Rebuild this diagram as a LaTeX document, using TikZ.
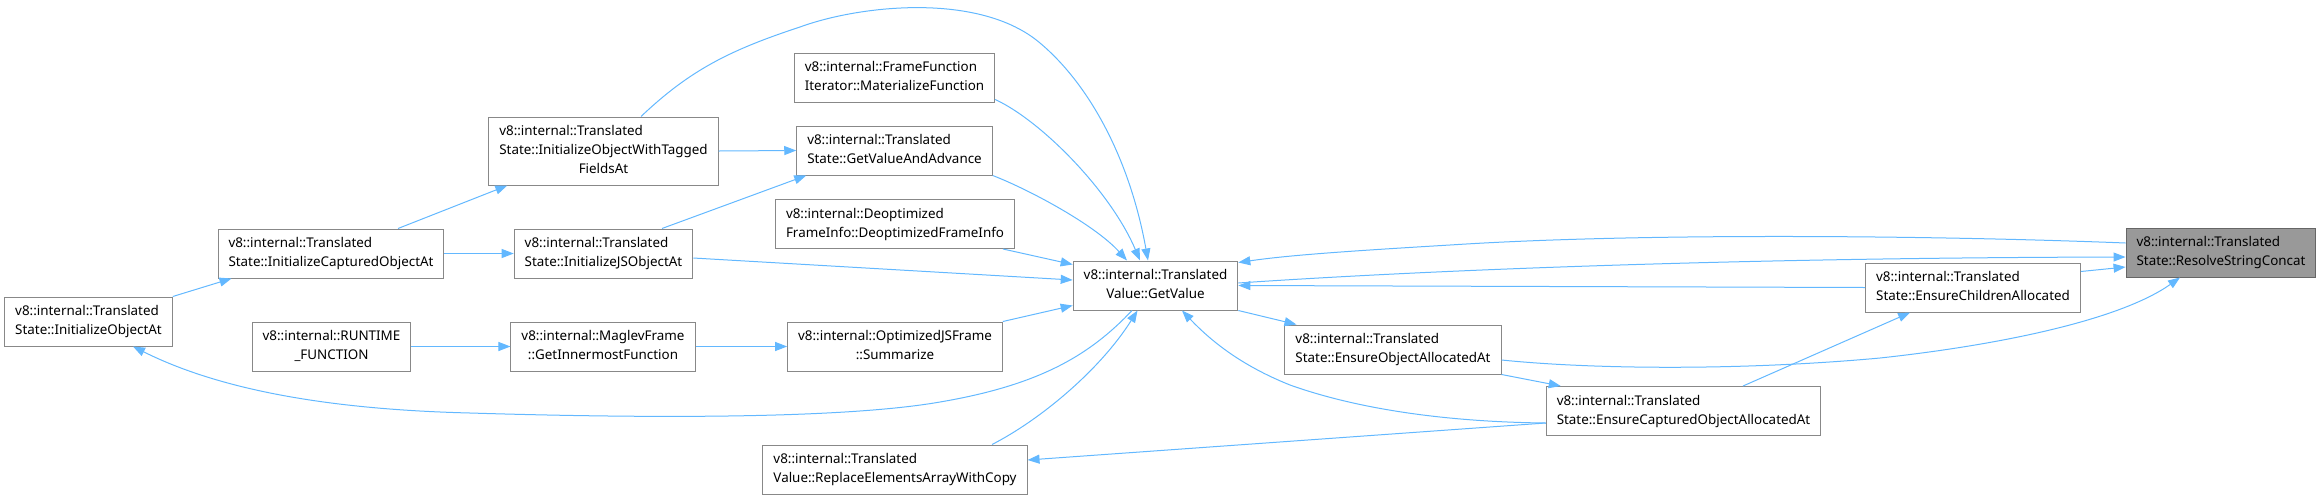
\documentclass[tikz,border=0pt]{standalone}
\usepackage{fontspec}
\setmainfont{Noto Sans}
\usetikzlibrary{arrows.meta}
\definecolor{edgeblue}{HTML}{63B8FF}
\definecolor{boxgray}{HTML}{888888}
\definecolor{focusfill}{HTML}{999999}
\definecolor{focusline}{HTML}{666666}
\newcommand{\twol}[2]{\begin{tabular}{@{}l@{}}#1\\\multicolumn{1}{@{}c@{}}{#2}\end{tabular}}
\newcommand{\threel}[3]{\begin{tabular}{@{}l@{}}#1\\#2\\\multicolumn{1}{@{}c@{}}{#3}\end{tabular}}
\begin{document}
\begin{tikzpicture}[x=1pt,y=-1pt,
  fn/.style={draw=boxgray,line width=1pt,fill=white,inner xsep=10.5pt,inner ysep=5.5pt,
    font=\fontsize{13.4pt}{19pt}\selectfont},
  focus/.style={fn,draw=focusline,fill=focusfill},
  arr/.style={draw=edgeblue,line width=1pt,-{Triangle[length=12pt,width=9pt]}}]
  \useasboundingbox (0,0) rectangle (2321,499);
  \node[fn] (initobj) at (88.5,321.5) {\twol{v8::internal::Translated}{State::InitializeObjectAt}};
  \node[fn] (initcap) at (331,253.5) {\twol{v8::internal::Translated}{State::InitializeCapturedObjectAt}};
  \node[fn] (runtime) at (331.5,346.5) {\twol{v8::internal::RUNTIME}{\_FUNCTION}};
  \node[fn] (tagged) at (603.5,151) {\threel{v8::internal::Translated}{State::InitializeObjectWithTagged}{FieldsAt}};
  \node[fn] (jsobj) at (603.5,253.5) {\twol{v8::internal::Translated}{State::InitializeJSObjectAt}};
  \node[fn] (maglev) at (603,346.5) {\twol{v8::internal::MaglevFrame}{::GetInnermostFunction}};
  \node[fn] (framefn) at (894.5,77.5) {\twol{v8::internal::FrameFunction}{Iterator::MaterializeFunction}};
  \node[fn] (getadv) at (894.5,150.5) {\twol{v8::internal::Translated}{State::GetValueAndAdvance}};
  \node[fn] (deopt) at (895,224) {\twol{v8::internal::Deoptimized}{FrameInfo::DeoptimizedFrameInfo}};
  \node[fn] (optjs) at (895,346.5) {\twol{v8::internal::OptimizedJSFrame}{::Summarize}};
  \node[fn] (replace) at (895,469.5) {\twol{v8::internal::Translated}{Value::ReplaceElementsArrayWithCopy}};
  \node[fn] (getvalue) at (1155.5,285.5) {\twol{v8::internal::Translated}{Value::GetValue}};
  \node[fn] (ensobj) at (1393,349.5) {\twol{v8::internal::Translated}{State::EnsureObjectAllocatedAt}};
  \node[fn] (enscap) at (1683.5,411) {\twol{v8::internal::Translated}{State::EnsureCapturedObjectAllocatedAt}};
  \node[fn] (enschild) at (1973,287.5) {\twol{v8::internal::Translated}{State::EnsureChildrenAllocated}};
  \node[focus] (resolve) at (2221,252.5) {\twol{v8::internal::Translated}{State::ResolveStringConcat}};

  \draw[arr] (initobj.north east) -- ([xshift=14pt]initcap.south west);
  \draw[arr] ([xshift=67pt]initcap.north) -- ([xshift=19pt]tagged.south west);
  \draw[arr] (initcap.east) -- (jsobj.west);
  \draw[arr] (tagged.east) -- (getadv.west);
  \draw[arr] ([xshift=58.5pt]jsobj.north) -- ([xshift=10pt]getadv.south west);
  \draw[arr] ([xshift=37.5pt]tagged.north) .. controls (690,70) and (730,50) .. (800,27)
    .. controls (860,5) and (980,-8) .. (1040,43)
    .. controls (1090,85) and (1130,160) .. ([xshift=-7.5pt]getvalue.north);
  \draw[arr] ([yshift=3pt]framefn.south east) .. controls (1040,120) and (1110,190) .. ([xshift=-15.5pt]getvalue.north);
  \draw[arr] (getadv.south east) .. controls (1030,190) and (1095,225) .. ([xshift=-28.5pt]getvalue.north);
  \draw[arr] ([xshift=-12pt]deopt.south east) -- ([yshift=-4pt]getvalue.north west);
  \draw[arr] ([yshift=-4.5pt]jsobj.east) -- ([yshift=5.5pt]getvalue.west);
  \draw[arr] (optjs.north east) -- ([yshift=5pt]getvalue.south west);
  \draw[arr] (runtime.east) -- (maglev.west);
  \draw[arr] (maglev.east) -- (optjs.west);
  \draw[arr] ([xshift=-23.5pt]getvalue.south) .. controls (1090,355) and (1040,385) .. (940,402)
    .. controls (860,416) and (700,420) .. (470,413)
    .. controls (350,410) and (230,395) .. ([xshift=44.5pt]initobj.south);
  \draw[arr] ([xshift=97pt]replace.north) .. controls (1040,420) and (1100,370) .. ([xshift=-18pt]getvalue.south);
  \draw[arr] ([yshift=-12pt]enscap.west) .. controls (1450,422) and (1360,410) .. (1290,385)
    .. controls (1240,365) and (1210,340) .. ([xshift=26.5pt]getvalue.south);
  \draw[arr] ([yshift=-12pt]enscap.west) -- ([yshift=9.5pt]replace.east);
  \draw[arr] (getvalue.south east) -- ([xshift=12pt]ensobj.north west);
  \draw[arr] (ensobj.south east) -- ([xshift=15pt]enscap.north west);
  \draw[arr] ([xshift=59.5pt]enscap.north) -- ([xshift=45pt]enschild.south west);
  \draw[arr] ([yshift=-9pt]enschild.north east) -- ([yshift=-14.5pt]resolve.west);
  \draw[arr] ([yshift=-10.5pt]ensobj.east) .. controls (1600,370) and (1750,370) .. (1880,358)
    .. controls (2000,345) and (2120,320) .. ([xshift=-41pt]resolve.south);
  \draw[arr] ([yshift=9.5pt]resolve.west) .. controls (1950,236) and (1650,232) .. (1450,245)
    .. controls (1350,251) and (1290,255) .. ([yshift=-2pt]getvalue.north east);
  \draw[arr] ([yshift=2.5pt]getvalue.east) .. controls (1400,272) and (1700,258) .. ([yshift=-4.5pt]resolve.west);
  \draw[arr] (enschild.west) -- (getvalue.east);
\end{tikzpicture}
\end{document}
